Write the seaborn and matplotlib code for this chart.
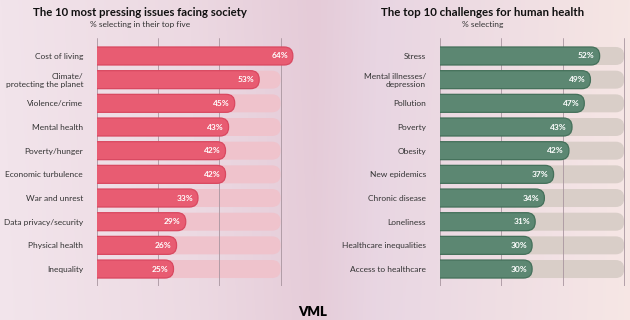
import numpy as np
import pandas as pd
import seaborn as sns
import matplotlib.pyplot as plt
from matplotlib.patches import FancyBboxPatch
from matplotlib.colors import to_rgb

left_labels = ["Cost of living", "Climate/\nprotecting the planet", "Violence/crime", "Mental health",
               "Poverty/hunger", "Economic turbulence", "War and unrest", "Data privacy/security",
               "Physical health", "Inequality"]
left_values = [64, 53, 45, 43, 42, 42, 33, 29, 26, 25]

right_labels = ["Stress", "Mental illnesses/\ndepression", "Pollution", "Poverty", "Obesity",
                "New epidemics", "Chronic disease", "Loneliness", "Healthcare inequalities",
                "Access to healthcare"]
right_values = [52, 49, 47, 43, 42, 37, 34, 31, 30, 30]

track_max = 60
grid_ticks = [0, 20, 40, 60]

sns.set_style("white")
plt.rcParams['font.family'] = ['Lato', 'DejaVu Sans']

W, H = 630, 320
fig = plt.figure(figsize=(W / 100, H / 100), dpi=100)

# soft pink / lavender backdrop
bg = fig.add_axes([0, 0, 1, 1], zorder=-10)
stops = [(0.0, "#f2e4eb"), (0.3, "#ecd9e2"), (0.5, "#e5cbd8"), (0.6, "#e8d5e2"), (1.0, "#f6e6e4")]
xs = np.linspace(0, 1, 300)
cols = np.array([[np.interp(x, [s[0] for s in stops], [to_rgb(s[1])[i] for s in stops]) for i in range(3)] for x in xs])
yy = np.linspace(0, 1, 160)[:, None, None]
img = cols[None, :, :] * (0.97 + 0.03 * yy) + 0.03 * (1 - yy)
bg.imshow(np.clip(img, 0, 1), aspect="auto", extent=[0, 1, 0, 1], origin="lower")
bg.set_axis_off()


def panel(left_px, labels, values, bar_color, bar_edge, track_color, px_per_unit, xmax):
    top_px, bot_px = 38, 285.6
    ax = fig.add_axes([left_px / W, 1 - bot_px / H, xmax * px_per_unit / W, (bot_px - top_px) / H])
    ax.patch.set_alpha(0)
    df = pd.DataFrame({"label": labels, "value": values, "track": [track_max] * len(labels)})
    sns.barplot(data=df, x="track", y="label", color=track_color, saturation=1, width=0.76, ax=ax)
    n_track = len(ax.patches)
    sns.barplot(data=df, x="value", y="label", color=bar_color, saturation=1, width=0.76, ax=ax)
    ax.set_xlim(0, xmax)
    ax.set_ylim(len(labels) - 0.3, -0.76)
    for g in grid_ticks:
        ax.axvline(g, color="#a8959f", lw=0.6, zorder=1.5)
    # rounded right ends
    aspect = (1 / (bot_px - top_px) * (len(labels) - 0.3 + 0.76)) / (1 / px_per_unit)
    r = 8.6 / px_per_unit
    for k, p in enumerate(list(ax.patches)):
        x, y, w, h = p.get_x(), p.get_y(), p.get_width(), p.get_height()
        is_track = k < n_track
        fb = FancyBboxPatch((x - r, y), w + r, h, boxstyle=f"round,pad=0,rounding_size={r}",
                            mutation_aspect=aspect, fc=p.get_facecolor(),
                            ec="none" if is_track else bar_edge, lw=0.9,
                            zorder=1 if is_track else 2)
        p.remove()
        ax.add_patch(fb)
    for i, v in enumerate(values):
        ax.text(v - 1.6, i, f"{v}%", ha="right", va="center", color="white",
                fontsize=6, fontweight="bold", zorder=5)
    ax.set_xlabel("")
    ax.set_ylabel("")
    ax.set_xticks([])
    ax.tick_params(axis="y", length=0, pad=10, labelsize=6.0, labelcolor="#333333")
    sns.despine(ax=ax, left=True, bottom=True)
    return ax


panel(97, left_labels, left_values, "#e85c72", "#d94860", "#efc3cc", 3.06, 66)
panel(440, right_labels, right_values, "#5c8772", "#44705a", "#d9cec8", 3.07, 61.5)

fig.text(140 / W, 1 - 13 / H, "The 10 most pressing issues facing society", ha="center", va="center",
         fontsize=8.2, fontweight="bold", color="#111111")
fig.text(140 / W, 1 - 25 / H, "% selecting in their top five", ha="center", va="center",
         fontsize=6, color="#333333")
fig.text(483 / W, 1 - 13 / H, "The top 10 challenges for human health", ha="center", va="center",
         fontsize=8.3, fontweight="bold", color="#111111")
fig.text(483 / W, 1 - 25 / H, "% selecting", ha="center", va="center",
         fontsize=6, color="#333333")
fig.text(313 / W, 1 - 312 / H, "VML", ha="center", va="center", fontsize=9.5,
         fontweight="heavy", color="#000000")

fig.savefig("out.png", dpi=100)
